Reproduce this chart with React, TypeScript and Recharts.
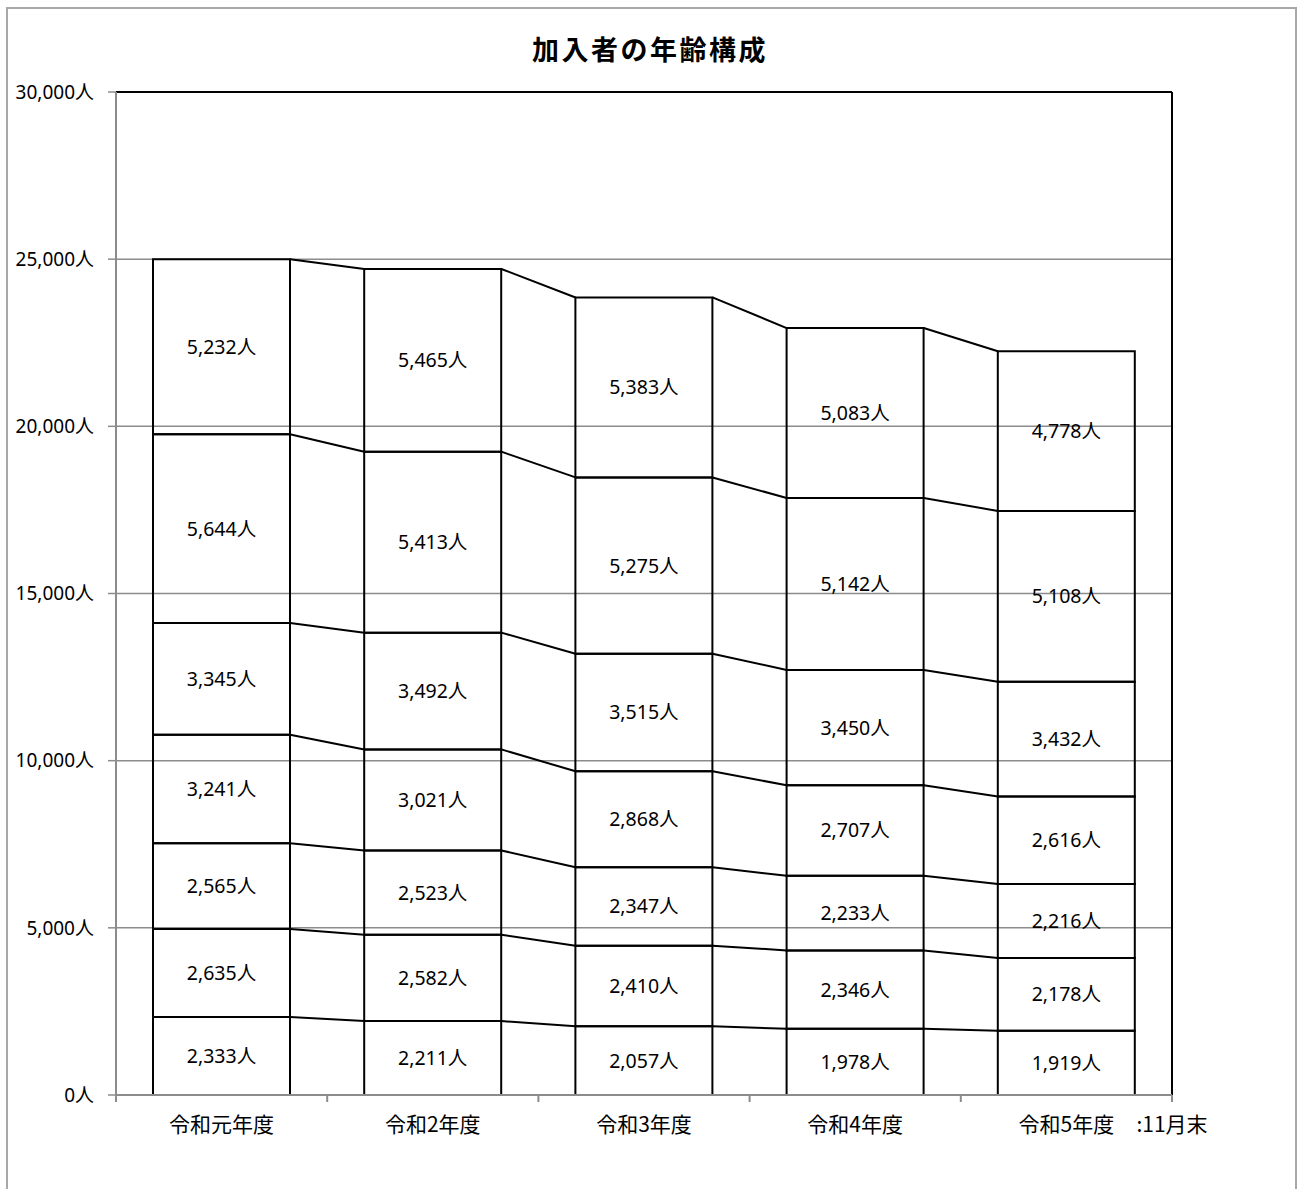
import React from 'react';
import * as R from 'recharts';
import { BarChart, Bar, XAxis, YAxis, CartesianGrid, LabelList, Customized } from 'recharts';

const title = '加入者の年齢構成';
const noteLabel = ':11月末';
const categories = ['令和元年度', '令和2年度', '令和3年度', '令和4年度', '令和5年度'];
const seriesKeys = ['s1', 's2', 's3', 's4', 's5', 's6', 's7'];
const s1 = [2333, 2211, 2057, 1978, 1919];
const s2 = [2635, 2582, 2410, 2346, 2178];
const s3 = [2565, 2523, 2347, 2233, 2216];
const s4 = [3241, 3021, 2868, 2707, 2616];
const s5 = [3345, 3492, 3515, 3450, 3432];
const s6 = [5644, 5413, 5275, 5142, 5108];
const s7 = [5232, 5465, 5383, 5083, 4778];
const yTicks = [0, 5000, 10000, 15000, 20000, 25000, 30000];

const seriesArrays = [s1, s2, s3, s4, s5, s6, s7];
const data = categories.map((name, i) => {
  const row: any = { name };
  seriesKeys.forEach((k, j) => { row[k] = seriesArrays[j][i]; });
  return row;
});

const Y_MIN = yTicks[0];
const Y_MAX = yTicks[yTicks.length - 1];
const BAR_SIZE = 137;
const GRAY = '#8c8c8c';
const LATIN = "'Noto Sans', 'Noto Sans CJK JP', sans-serif";
const CJK = "'Noto Sans CJK JP', sans-serif";

const fmt = (v: any) => Number(v).toLocaleString('en-US') + '人';

function useArea() {
  const anyR = R as any;
  if (anyR.usePlotArea) {
    const a = anyR.usePlotArea();
    return a;
  }
  return null;
}

function Overlay() {
  const area = useArea();
  if (!area) return null;
  const n = categories.length;
  const band = area.width / n;
  const yOf = (v: number) => area.y + area.height * (1 - (v - Y_MIN) / (Y_MAX - Y_MIN));
  const lines: any[] = [];
  for (let i = 0; i < n - 1; i++) {
    let cumA = 0;
    let cumB = 0;
    seriesArrays.forEach((arr, k) => {
      cumA += arr[i];
      cumB += arr[i + 1];
      const x1 = area.x + band * (i + 0.5) + BAR_SIZE / 2;
      const x2 = area.x + band * (i + 1.5) - BAR_SIZE / 2;
      lines.push(
        <line key={`sl-${i}-${k}`} x1={x1} y1={yOf(cumA)} x2={x2} y2={yOf(cumB)} stroke="#000" strokeWidth={2} />
      );
    });
  }
  const right = area.x + area.width;
  const bottom = area.y + area.height;
  return (
    <g>
      {lines}
      <line x1={area.x} y1={area.y} x2={right} y2={area.y} stroke="#000" strokeWidth={2} />
      <line x1={right} y1={area.y} x2={right} y2={bottom} stroke="#000" strokeWidth={2} />
      <text x={650} y={48} textAnchor="middle" dominantBaseline="central" fontFamily={CJK} fontWeight="bold" fontSize={27} letterSpacing={2.5} fill="#000">
        {title}
      </text>
      <text x={right} y={bottom + 28} textAnchor="middle" dominantBaseline="central" fontFamily={CJK} fontSize={21} fill="#000">
        {noteLabel}
      </text>
    </g>
  );
}

function XTick(props: any) {
  const { x, y, payload, index } = props;
  const area = useArea();
  const off = payload && payload.offset != null ? payload.offset : area ? area.width / categories.length / 2 : 105;
  const last = index === categories.length - 1;
  return (
    <g>
      <line x1={x - off} y1={y} x2={x - off} y2={y + 7} stroke={GRAY} strokeWidth={2} />
      {last && <line x1={x + off} y1={y} x2={x + off} y2={y + 7} stroke={GRAY} strokeWidth={2} />}
      <text x={x} y={y + 28} textAnchor="middle" dominantBaseline="central" fontFamily={CJK} fontSize={21} fill="#000">
        {payload.value}
      </text>
    </g>
  );
}

export default function App() {
  return (
    <div style={{ position: 'absolute', left: 0, top: 0, width: 1300, height: 1189, background: '#fff' }}>
      <div
        style={{
          position: 'absolute',
          left: 6,
          top: 7,
          width: 1291,
          height: 1182,
          boxSizing: 'border-box',
          border: '2px solid #a8a8a8',
          borderBottom: 'none',
        }}
      />
      <div style={{ position: 'absolute', left: 0, top: 0 }}>
        <BarChart width={1300} height={1189} data={data} margin={{ top: 92, right: 128, bottom: 0, left: 0 }}>
          <CartesianGrid vertical={false} stroke={GRAY} strokeWidth={1.5} />
          <XAxis
            dataKey="name"
            height={94}
            tickLine={false}
            tickSize={0}
            tickMargin={0}
            axisLine={{ stroke: GRAY, strokeWidth: 2 }}
            tick={<XTick />}
            interval={0}
          />
          <YAxis
            width={116}
            domain={[Y_MIN, Y_MAX]}
            ticks={yTicks}
            interval={0}
            tickFormatter={fmt}
            tickSize={8}
            tickMargin={14}
            axisLine={{ stroke: GRAY, strokeWidth: 2 }}
            tickLine={{ stroke: GRAY, strokeWidth: 1.5 }}
            tick={{ fill: '#000', fontSize: 19, fontFamily: LATIN }}
          />
          {seriesKeys.map((k) => (
            <Bar key={k} dataKey={k} stackId="a" fill="none" stroke="#000" strokeWidth={2} barSize={BAR_SIZE} isAnimationActive={false}>
              <LabelList dataKey={k} position="center" formatter={fmt} fill="#000" stroke="none" fontSize={19.5} fontFamily={LATIN} />
            </Bar>
          ))}
          <Customized component={<Overlay />} />
        </BarChart>
      </div>
    </div>
  );
}
